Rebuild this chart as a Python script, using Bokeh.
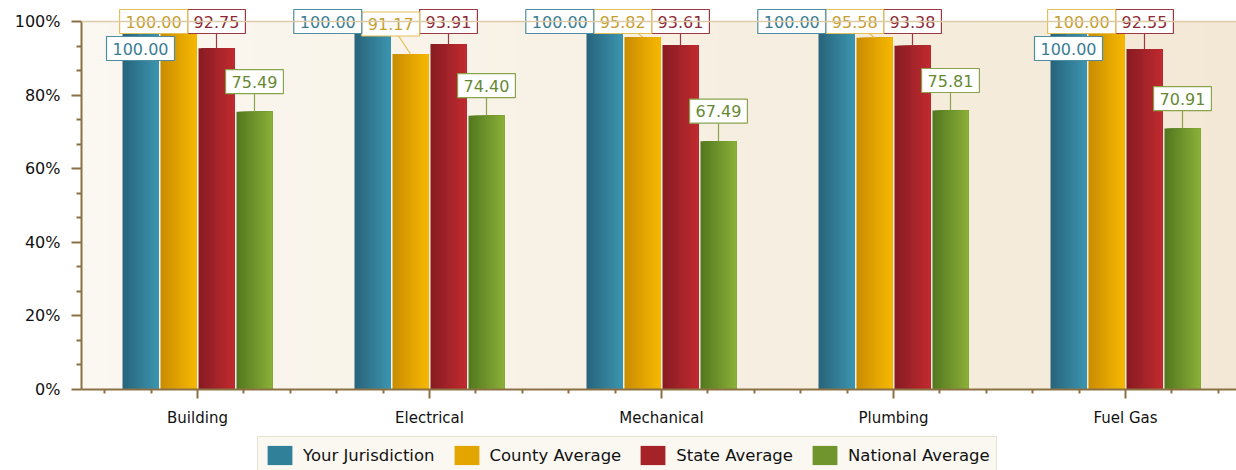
import numpy as np
from bokeh.plotting import figure
from bokeh.layouts import column
from bokeh.models import (ColumnDataSource, Range1d, FixedTicker, PrintfTickFormatter,
                          Legend, LegendItem, Span)
from bokeh.core.properties import value
from bokeh.embed import file_html
from bokeh.resources import INLINE

# ---------------- data ----------------
categories = ["Building", "Electrical", "Mechanical", "Plumbing", "Fuel Gas"]
series_names = ["Your Jurisdiction", "County Average", "State Average", "National Average"]
your_jurisdiction = [100.00, 100.00, 100.00, 100.00, 100.00]
county_average = [100.00, 91.17, 95.82, 95.58, 100.00]
state_average = [92.75, 93.91, 93.61, 93.38, 92.55]
national_average = [75.49, 74.40, 67.49, 75.81, 70.91]
y_ticks = [0, 20, 40, 60, 80, 100]
series = [your_jurisdiction, county_average, state_average, national_average]

# ---------------- style ----------------
W = 1236
MAIN_H = 436
LEG_H = 470 - MAIN_H
LEFT, TOP_PAD, BOTTOM = 81, 21, 47
FRAME_W = W - LEFT
FRAME_H = MAIN_H - BOTTOM          # frame reaches the top of the canvas
CAT_PX = 232.0
PX_Y = (FRAME_H - TOP_PAD) / 100.0
FONT = "DejaVu Sans"

bar_dark = ["#28637A", "#C98C00", "#871B21", "#52771F"]
bar_light = ["#3B95B0", "#F6B800", "#C02B30", "#8BB038"]
bar_mid = ["#31809A", "#E3A600", "#A52328", "#70952C"]
lab_text = ["#3B7C92", "#C59E30", "#8C2936", "#678933"]
lab_border = ["#4C8DA2", "#E3C055", "#9B3843", "#8AA44E"]
pitch = 38.0 / CAT_PX
bar_w = 36.0 / CAT_PX
offsets = [(-1.5 + j) * pitch for j in range(4)]
N_STRIPS = 14


def hex2rgb(h):
    h = h.lstrip("#")
    return np.array([int(h[k:k + 2], 16) for k in (0, 2, 4)], dtype=float)


def mix(a, b, t):
    c = hex2rgb(a) * (1 - t) + hex2rgb(b) * t
    return "#%02x%02x%02x" % tuple(int(round(v)) for v in c)


x_end = FRAME_W / CAT_PX
y_end = 100 + TOP_PAD / PX_Y
p = figure(width=W, height=MAIN_H, output_backend="svg", toolbar_location=None,
           x_range=Range1d(0, x_end), y_range=Range1d(0, y_end),
           min_border_left=LEFT, min_border_right=0, min_border_top=0,
           min_border_bottom=BOTTOM, background_fill_color="white",
           border_fill_color="white", outline_line_color=None)

# plot-area background gradient
nb = 40
edges = np.linspace(0, x_end, nb + 1)
p.quad(left=edges[:-1], right=np.minimum(edges[1:] + 0.004, x_end), bottom=0, top=100,
       fill_color=[mix("#FBF8F1", "#F3E8D5", (k + 0.5) / nb) for k in range(nb)],
       line_color=None)

p.add_layout(Span(location=100, dimension="width", line_color="#DCCBA8", line_width=1.5))

# bars with horizontal gradient (overlapping quads -> no seams)
for j, vals in enumerate(series):
    L, R, T, C = [], [], [], []
    for i, v in enumerate(vals):
        cx = i + 0.5 + offsets[j]
        x0, x1 = cx - bar_w / 2, cx + bar_w / 2
        for k in range(N_STRIPS):
            t = (k + 0.5) / N_STRIPS
            L.append(x0 + k * bar_w / N_STRIPS)
            R.append(x1)
            T.append(v)
            C.append(mix(bar_dark[j], bar_light[j], t))
    src = ColumnDataSource(dict(left=L, right=R, top=T, color=C))
    p.quad(left="left", right="right", top="top", bottom=0,
           fill_color="color", line_color=None, source=src)

# ---------------- value labels with simple collision avoidance ----------------
PAD = 6


def text_w(s):
    return sum(5.09 if c == "." else 10.18 for c in s) + 2 * PAD


LBL_H = 24
lx, ly, ltxt, lcol, lbord = [], [], [], [], []
sx0, sy0, sx1, sy1, scol = [], [], [], [], []
for i in range(len(categories)):
    group = []
    for j in reversed(range(4)):
        v = series[j][i]
        s = f"{v:.2f}"
        bx = (i + 0.5 + offsets[j]) * CAT_PX
        by = (100 - v) * PX_Y
        cy = max(by - 30, 0)
        w = text_w(s)
        cx = bx
        changed = True
        while changed:
            changed = False
            for (ox, oy, ow) in group:
                if abs(cx - ox) < (w + ow) / 2 - 0.5 and abs(cy - oy) < LBL_H - 0.5:
                    cx = ox - (ow + w) / 2
                    changed = True
        if bx - cx > 45:
            cx = bx
            cy = cy + 27
        group.append((cx, cy, w))
        lx.append(cx / CAT_PX)
        ly.append(100 - cy / PX_Y)
        ltxt.append(s)
        lcol.append(lab_text[j])
        lbord.append(lab_border[j])
        sx0.append(bx / CAT_PX)
        sy0.append(v)
        sx1.append(cx / CAT_PX)
        sy1.append(100 - cy / PX_Y)
        scol.append(lab_border[j])

p.segment(x0=sx0, y0=sy0, x1=sx1, y1=sy1, line_color=scol, line_width=1.2)
lsrc = ColumnDataSource(dict(x=lx, y=ly, text=ltxt, color=lcol, border=lbord))
p.text(x="x", y="y", text="text", source=lsrc, text_color="color",
       text_font=value(FONT), text_font_size="16px", text_align="center",
       text_baseline="middle", background_fill_color="white",
       border_line_color="border", border_line_width=1.2, padding=PAD)

# ---------------- axes ----------------
axis_col = "#8B7043"
centers = [i + 0.5 for i in range(len(categories))]
minors = [c + d for c in centers for d in (-0.4, -0.2, 0.2, 0.4)]
p.xaxis.ticker = FixedTicker(ticks=centers, minor_ticks=minors)
p.xaxis.major_label_overrides = {c: name for c, name in zip(centers, categories)}
p.yaxis.ticker = FixedTicker(ticks=y_ticks,
                             minor_ticks=[t + d for t in y_ticks[:-1] for d in (20 / 3, 40 / 3)])
p.yaxis.formatter = PrintfTickFormatter(format="%d%%")
p.yaxis.bounds = (0, 100)
for ax in (p.xaxis[0], p.yaxis[0]):
    ax.axis_line_color = axis_col
    ax.axis_line_width = 2
    ax.major_tick_line_color = axis_col
    ax.minor_tick_line_color = axis_col
    ax.major_tick_line_width = 2
    ax.minor_tick_line_width = 2
    ax.major_tick_in = 0
    ax.minor_tick_in = 0
    ax.major_label_text_font = FONT
    ax.major_label_text_color = "#111111"
p.yaxis.major_tick_out = 10
p.yaxis.minor_tick_out = 5
p.yaxis.major_label_standoff = 11
p.yaxis.major_label_text_font_size = "16px"
p.xaxis.major_tick_out = 9
p.xaxis.minor_tick_out = 4
p.xaxis.major_label_standoff = 10
p.xaxis.major_label_text_font_size = "15px"
p.xgrid.visible = False
p.ygrid.visible = False

# ---------------- legend (own strip below the chart; frames are aligned) ----------------
lf = figure(width=W, height=LEG_H, output_backend="svg", toolbar_location=None,
            x_range=Range1d(0, 1), y_range=Range1d(0, 1), x_axis_type=None, y_axis_type=None,
            min_border=0, outline_line_color=None, background_fill_color="white",
            border_fill_color="white")
lf.xgrid.visible = False
lf.ygrid.visible = False
items = []
for n, c in zip(series_names, bar_mid):
    r = lf.quad(left=[-5], right=[-4], top=[-4], bottom=[-5], fill_color=c,
                line_color=None)
    items.append(LegendItem(label=n, renderers=[r]))
legend = Legend(items=items, orientation="horizontal", location=(257 - LEFT, -4),
                glyph_width=31, glyph_height=24, label_standoff=8, spacing=16,
                padding=6, margin=0, label_text_font=FONT, label_text_font_size="16.5px",
                label_text_color="#111111", background_fill_color="#FBF8F2",
                background_fill_alpha=1.0, border_line_color="#D6CAB0", border_line_width=1.5)
lf.add_layout(legend)

layout = column(p, lf, spacing=0)
open("out.html", "w").write(file_html(layout, INLINE))
